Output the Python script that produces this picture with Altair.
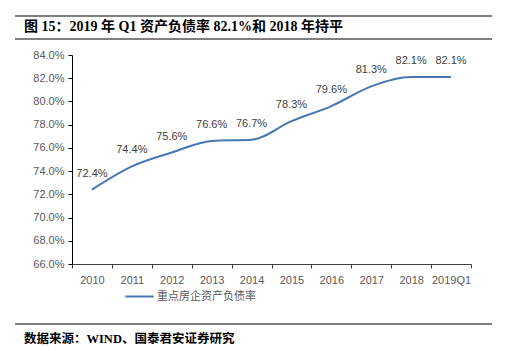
import altair as alt
import pandas as pd

categories = ["2010", "2011", "2012", "2013", "2014", "2015", "2016", "2017", "2018", "2019Q1"]
values = [72.4, 74.4, 75.6, 76.6, 76.7, 78.3, 79.6, 81.3, 82.1, 82.1]
series_name = "重点房企资产负债率"
title_text = "图 15：2019 年 Q1 资产负债率 82.1%和 2018 年持平"
source_text = "数据来源：WIND、国泰君安证券研究"
y_ticks = [66, 68, 70, 72, 74, 76, 78, 80, 82, 84]

df = pd.DataFrame({"year": categories, "rate": values, "series": series_name})
df["label"] = [f"{v:.1f}%" for v in values]

W, H = 399, 209
line_color = "#4677b4"
one = alt.Data(values=[{}])

x_enc = alt.X("year:N", sort=categories, title=None,
              scale=alt.Scale(paddingInner=0, paddingOuter=0),
              axis=alt.Axis(labelAngle=0, tickBand="extent", tickSize=4,
                            domainColor="#404040", tickColor="#404040",
                            labelColor="#595959", labelFont="Liberation Sans",
                            labelFontSize=11, labelPadding=6, labelOverlap=False))
y_enc = alt.Y("rate:Q", title=None,
              scale=alt.Scale(domain=[66, 84], nice=False, zero=False),
              axis=alt.Axis(values=y_ticks,
                            labelExpr="format(datum.value, '.1f') + '%'",
                            grid=False, tickSize=4, domainColor="#000000", tickColor="#000000",
                            labelColor="#595959", labelFont="Liberation Sans",
                            labelFontSize=11, labelPadding=4, labelOverlap=False,
                            labelFlush=False))

base = alt.Chart(df).encode(x=x_enc, y=y_enc)

line = base.mark_line(interpolate="monotone", strokeWidth=2).encode(
    color=alt.Color("series:N", scale=alt.Scale(range=[line_color]),
                    legend=alt.Legend(title=None, orient="none", legendX=52, legendY=226,
                                      symbolType="stroke", symbolSize=800, symbolStrokeWidth=2,
                                      labelFont="Noto Sans CJK SC", labelFontSize=11,
                                      labelColor="#595959", labelOffset=2)))

labels = base.mark_text(dy=-16, font="Liberation Sans", fontSize=11,
                        color="#404040").encode(text="label:N")

title = alt.Chart(one).mark_text(align="left", baseline="middle", font="Liberation Serif, Noto Sans CJK SC",
                                 fontSize=14, fontWeight="bold", color="#000000").encode(
    x=alt.value(-48), y=alt.value(-28), text=alt.value(title_text))
rule_top = alt.Chart(one).mark_rule(color="#000000", strokeWidth=1.2).encode(
    x=alt.value(-57), x2=alt.value(420), y=alt.value(-39))
rule_mid = alt.Chart(one).mark_rule(color="#000000", strokeWidth=1).encode(
    x=alt.value(-57), x2=alt.value(420), y=alt.value(-16))
rule_bot = alt.Chart(one).mark_rule(color="#000000", strokeWidth=1).encode(
    x=alt.value(-57), x2=alt.value(420), y=alt.value(269))
source = alt.Chart(one).mark_text(align="left", baseline="middle", font="Liberation Serif, Noto Sans CJK SC",
                                  fontSize=12.5, fontWeight="bold", color="#000000").encode(
    x=alt.value(-48), y=alt.value(284), text=alt.value(source_text))

chart = alt.layer(line, labels, title, rule_top, rule_mid, rule_bot, source).properties(
    width=W, height=H,
    autosize=alt.AutoSizeParams(type="none"),
    padding={"left": 72, "top": 55, "right": 37, "bottom": 87},
    background="white",
).configure_view(stroke=None)

chart.save("out.html", embed_options={"renderer": "svg", "actions": False})
